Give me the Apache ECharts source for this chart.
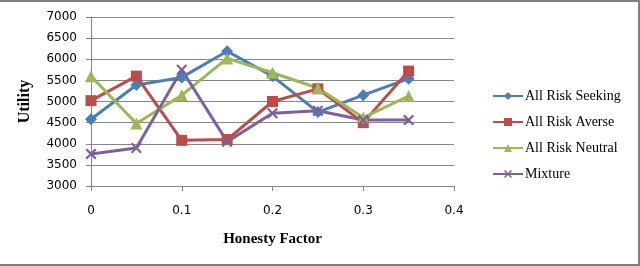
<!DOCTYPE html>
<html>
<head>
<meta charset="utf-8">
<script src="https://cdn.jsdelivr.net/npm/echarts@6/dist/echarts.min.js"></script>
<style>
html,body{margin:0;padding:0;background:#fff;}
#wrap{position:absolute;left:0;top:0;width:638px;height:262px;border-top:2px solid #808080;border-right:2px solid #808080;border-bottom:2px solid #808080;}
#chart{width:638px;height:262px;}
</style>
</head>
<body>
<div id="wrap"><div id="chart"></div></div>
<script>
const honesty = [0, 0.05, 0.1, 0.15, 0.2, 0.25, 0.3, 0.35];
const riskSeeking = [4580, 5390, 5570, 6190, 5600, 4750, 5150, 5540];
const riskAverse  = [5020, 5600, 4080, 4100, 5000, 5300, 4500, 5720];
const riskNeutral = [5600, 4480, 5150, 6020, 5680, 5320, 4620, 5130];
const mixture     = [3760, 3900, 5750, 4050, 4720, 4780, 4560, 4560];
const yTicks = [3000, 3500, 4000, 4500, 5000, 5500, 6000, 6500, 7000];
const xTicks = [0, 0.1, 0.2, 0.3, 0.4];
const names = ['All Risk Seeking', 'All Risk Averse', 'All Risk Neutral', 'Mixture'];
const colors = ['#4A7EBB', '#BE4B48', '#98B954', '#7D60A0'];

const pairs = arr => honesty.map((x, i) => [x, arr[i]]);
const crossPath = 'path://M0,1.4L1.4,0L5,3.6L8.6,0L10,1.4L6.4,5L10,8.6L8.6,10L5,6.4L1.4,10L0,8.6L3.6,5Z';

const chart = echarts.init(document.getElementById('chart'), null, {renderer: 'canvas'});
const axisGray = '#868686';
const mk = (name, data, color, symbol, size) => ({
  name, type: 'line', data: pairs(data), symbol, symbolSize: size,
  lineStyle: {color, width: 3}, itemStyle: {color},
  emphasis: {disabled: true}, animation: false
});
chart.setOption({
  animation: false,
  grid: {left: 91, right: 184, top: 15, bottom: 78},
  xAxis: {
    type: 'value', min: xTicks[0], max: xTicks[xTicks.length - 1], interval: 0.1,
    name: 'Honesty Factor', nameLocation: 'middle', nameGap: 46,
    nameTextStyle: {fontFamily: 'Liberation Serif', fontWeight: 'bold', fontSize: 15, color: '#000'},
    axisLine: {show: true, lineStyle: {color: axisGray}},
    axisTick: {show: true, length: 5, lineStyle: {color: axisGray}},
    splitLine: {show: false},
    axisLabel: {margin: 19, fontFamily: 'DejaVu Sans', fontSize: 12, color: '#000',
      formatter: v => String(Math.round(v * 10) / 10)}
  },
  yAxis: {
    type: 'value', min: yTicks[0], max: yTicks[yTicks.length - 1], interval: 500,
    name: 'Utility', nameLocation: 'middle', nameGap: 58,
    nameTextStyle: {fontFamily: 'Liberation Serif', fontWeight: 'bold', fontSize: 16, color: '#000'},
    axisLine: {show: true, lineStyle: {color: axisGray}},
    axisTick: {show: true, length: 5, lineStyle: {color: axisGray}},
    splitLine: {show: true, lineStyle: {color: axisGray, width: 1}},
    axisLabel: {margin: 14, fontFamily: 'DejaVu Sans', fontSize: 12, color: '#000',
      formatter: v => String(v)}
  },
  legend: {
    orient: 'vertical', left: 487, top: 82, itemWidth: 30, itemHeight: 10, itemGap: 12,
    textStyle: {fontFamily: 'Liberation Serif', fontSize: 14, color: '#000', padding: [0,0,0,-3]},
    data: names, selectedMode: false
  },
  series: [
    mk(names[0], riskSeeking, colors[0], 'diamond', 12),
    mk(names[1], riskAverse, colors[1], 'rect', 11),
    mk(names[2], riskNeutral, colors[2], 'triangle', 12),
    mk(names[3], mixture, colors[3], crossPath, 11)
  ]
});
</script>
</body>
</html>
